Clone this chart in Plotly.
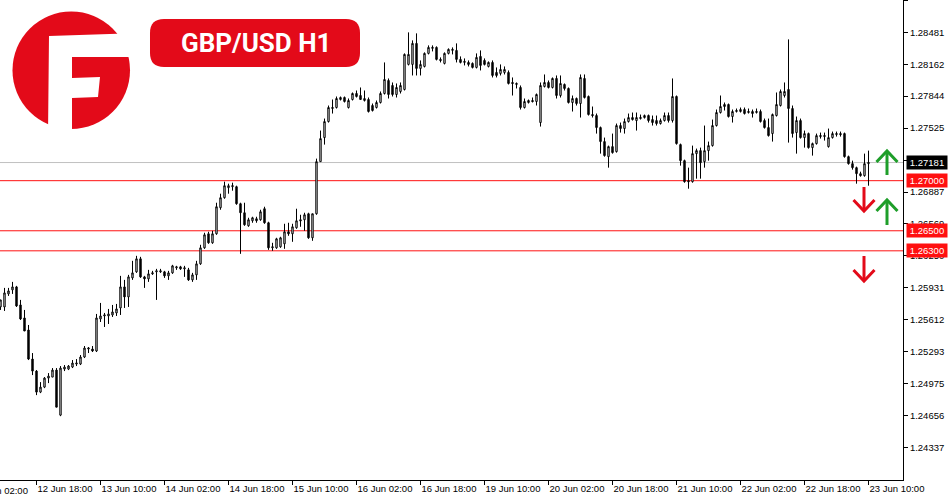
import plotly.graph_objects as go

# GBP/USD H1 bars, 12 Jun 09:00 -> 23 Jun 10:00 (one value per hour, weekend skipped)
opens = [
    1.2574, 1.2574, 1.2587, 1.2591, 1.2594, 1.2576, 1.2563, 1.2551, 1.2522, 1.2510,
    1.2489, 1.2494, 1.2503, 1.2504, 1.2511, 1.2466, 1.2512, 1.2512, 1.2514, 1.2517,
    1.2517, 1.2524, 1.2532, 1.2532, 1.2530, 1.2562, 1.2565, 1.2565, 1.2566, 1.2568,
    1.2573, 1.2594, 1.2584, 1.2603, 1.2609, 1.2622, 1.2604, 1.2602, 1.2607, 1.2609,
    1.2609, 1.2609, 1.2605, 1.2608, 1.2613, 1.2614, 1.2612, 1.2611, 1.2601, 1.2606,
    1.2617, 1.2633, 1.2647, 1.2638, 1.2647, 1.2673, 1.2683, 1.2693, 1.2694, 1.2694,
    1.2677, 1.2668, 1.2655, 1.2660, 1.2662, 1.2661, 1.2672, 1.2658, 1.2633, 1.2633,
    1.2634, 1.2637, 1.2649, 1.2647, 1.2653, 1.2661, 1.2661, 1.2667, 1.2643, 1.2667,
    1.2719, 1.2743, 1.2759, 1.2772, 1.2773, 1.2781, 1.2783, 1.2773, 1.2781, 1.2787,
    1.2785, 1.2780, 1.2781, 1.2775, 1.2773, 1.2778, 1.2787, 1.2800, 1.2795, 1.2786,
    1.2789, 1.2791, 1.2816, 1.2816, 1.2837, 1.2812, 1.2814, 1.2827, 1.2832, 1.2833,
    1.2821, 1.2817, 1.2827, 1.2830, 1.2830, 1.2821, 1.2818, 1.2818, 1.2817, 1.2813,
    1.2824, 1.2820, 1.2814, 1.2818, 1.2808, 1.2807, 1.2808, 1.2808, 1.2798, 1.2796,
    1.2793, 1.2773, 1.2778, 1.2780, 1.2779, 1.2758, 1.2794, 1.2798, 1.2793, 1.2802,
    1.2785, 1.2796, 1.2792, 1.2778, 1.2782, 1.2777, 1.2802, 1.2784, 1.2766, 1.2765,
    1.2753, 1.2739, 1.2724, 1.2734, 1.2729, 1.2755, 1.2752, 1.2759, 1.2763, 1.2760,
    1.2762, 1.2763, 1.2765, 1.2761, 1.2760, 1.2757, 1.2760, 1.2765, 1.2760, 1.2784,
    1.2736, 1.2720, 1.2700, 1.2699, 1.2727, 1.2730, 1.2719, 1.2730, 1.2735, 1.2755,
    1.2768, 1.2776, 1.2776, 1.2764, 1.2769, 1.2769, 1.2771, 1.2768, 1.2769, 1.2768,
    1.2769, 1.2760, 1.2753, 1.2747, 1.2765, 1.2775, 1.2785, 1.2791, 1.2772, 1.2748,
    1.2760, 1.2743, 1.2747, 1.2733, 1.2737, 1.2744, 1.2744, 1.2734, 1.2743, 1.2746,
    1.2747, 1.2747, 1.2724, 1.2717, 1.2713, 1.2707, 1.2705, 1.2717,
]
highs = [
    1.2581, 1.2593, 1.2593, 1.2599, 1.2595, 1.2581, 1.2571, 1.2556, 1.2528, 1.2511,
    1.2499, 1.2504, 1.2508, 1.2513, 1.2513, 1.2515, 1.2516, 1.2516, 1.2521, 1.2522,
    1.2526, 1.2535, 1.2534, 1.2535, 1.2567, 1.2578, 1.2568, 1.2572, 1.2576, 1.2577,
    1.2605, 1.2601, 1.2606, 1.2620, 1.2625, 1.2624, 1.2605, 1.2611, 1.2610, 1.2612,
    1.2612, 1.2610, 1.2610, 1.2616, 1.2615, 1.2615, 1.2615, 1.2613, 1.2608, 1.2620,
    1.2636, 1.2648, 1.2649, 1.2650, 1.2678, 1.2687, 1.2699, 1.2697, 1.2698, 1.2695,
    1.2678, 1.2678, 1.2663, 1.2664, 1.2664, 1.2671, 1.2674, 1.2659, 1.2638, 1.2643,
    1.2644, 1.2657, 1.2658, 1.2657, 1.2672, 1.2666, 1.2668, 1.2668, 1.2667, 1.2722,
    1.2750, 1.2762, 1.2775, 1.2781, 1.2784, 1.2784, 1.2784, 1.2782, 1.2788, 1.2790,
    1.2793, 1.2790, 1.2783, 1.2777, 1.2780, 1.2789, 1.2818, 1.2802, 1.2798, 1.2797,
    1.2798, 1.2827, 1.2848, 1.2840, 1.2847, 1.2820, 1.2828, 1.2835, 1.2835, 1.2834,
    1.2823, 1.2828, 1.2832, 1.2833, 1.2837, 1.2824, 1.2822, 1.2820, 1.2818, 1.2827,
    1.2830, 1.2822, 1.2819, 1.2820, 1.2813, 1.2816, 1.2814, 1.2810, 1.2803, 1.2798,
    1.2795, 1.2782, 1.2781, 1.2783, 1.2787, 1.2798, 1.2806, 1.2800, 1.2803, 1.2805,
    1.2805, 1.2797, 1.2793, 1.2785, 1.2783, 1.2806, 1.2806, 1.2785, 1.2774, 1.2767,
    1.2754, 1.2743, 1.2735, 1.2747, 1.2757, 1.2758, 1.2762, 1.2767, 1.2768, 1.2768,
    1.2766, 1.2766, 1.2766, 1.2765, 1.2765, 1.2762, 1.2768, 1.2768, 1.2802, 1.2785,
    1.2737, 1.2721, 1.2713, 1.2735, 1.2732, 1.2733, 1.2755, 1.2739, 1.2761, 1.2771,
    1.2785, 1.2778, 1.2777, 1.2771, 1.2772, 1.2773, 1.2773, 1.2772, 1.2771, 1.2772,
    1.2771, 1.2762, 1.2762, 1.2767, 1.2788, 1.2791, 1.2798, 1.2841, 1.2775, 1.2764,
    1.2762, 1.2750, 1.2748, 1.2738, 1.2747, 1.2748, 1.2748, 1.2752, 1.2749, 1.2749,
    1.2749, 1.2748, 1.2725, 1.2720, 1.2714, 1.2709, 1.2727, 1.2730,
]
lows = [
    1.2571, 1.2570, 1.2585, 1.2587, 1.2574, 1.2561, 1.2550, 1.2521, 1.2506, 1.2486,
    1.2488, 1.2493, 1.2498, 1.2504, 1.2474, 1.2465, 1.2510, 1.2511, 1.2513, 1.2515,
    1.2516, 1.2523, 1.2528, 1.2529, 1.2529, 1.2559, 1.2554, 1.2557, 1.2564, 1.2565,
    1.2566, 1.2573, 1.2574, 1.2601, 1.2608, 1.2603, 1.2593, 1.2599, 1.2606, 1.2581,
    1.2608, 1.2603, 1.2601, 1.2607, 1.2611, 1.2611, 1.2604, 1.2600, 1.2599, 1.2601,
    1.2616, 1.2632, 1.2637, 1.2637, 1.2646, 1.2671, 1.2682, 1.2687, 1.2690, 1.2676,
    1.2627, 1.2655, 1.2654, 1.2658, 1.2658, 1.2660, 1.2657, 1.2631, 1.2630, 1.2632,
    1.2633, 1.2632, 1.2645, 1.2639, 1.2652, 1.2654, 1.2650, 1.2642, 1.2640, 1.2666,
    1.2719, 1.2736, 1.2758, 1.2767, 1.2772, 1.2780, 1.2778, 1.2772, 1.2780, 1.2783,
    1.2781, 1.2779, 1.2768, 1.2769, 1.2772, 1.2777, 1.2786, 1.2782, 1.2784, 1.2783,
    1.2787, 1.2790, 1.2815, 1.2805, 1.2805, 1.2805, 1.2813, 1.2826, 1.2829, 1.2820,
    1.2818, 1.2816, 1.2826, 1.2826, 1.2818, 1.2817, 1.2815, 1.2814, 1.2812, 1.2812,
    1.2810, 1.2815, 1.2813, 1.2803, 1.2803, 1.2805, 1.2806, 1.2796, 1.2785, 1.2792,
    1.2771, 1.2772, 1.2777, 1.2778, 1.2775, 1.2754, 1.2793, 1.2792, 1.2792, 1.2782,
    1.2783, 1.2790, 1.2777, 1.2769, 1.2775, 1.2763, 1.2782, 1.2765, 1.2763, 1.2747,
    1.2727, 1.2724, 1.2713, 1.2727, 1.2728, 1.2748, 1.2747, 1.2758, 1.2760, 1.2750,
    1.2761, 1.2762, 1.2758, 1.2755, 1.2755, 1.2756, 1.2759, 1.2758, 1.2758, 1.2736,
    1.2715, 1.2698, 1.2692, 1.2698, 1.2702, 1.2702, 1.2713, 1.2720, 1.2734, 1.2754,
    1.2767, 1.2770, 1.2763, 1.2758, 1.2768, 1.2768, 1.2766, 1.2767, 1.2763, 1.2767,
    1.2758, 1.2752, 1.2744, 1.2739, 1.2764, 1.2774, 1.2783, 1.2738, 1.2743, 1.2727,
    1.2742, 1.2733, 1.2732, 1.2725, 1.2736, 1.2742, 1.2740, 1.2733, 1.2742, 1.2744,
    1.2744, 1.2723, 1.2716, 1.2711, 1.2697, 1.2704, 1.2704, 1.2695,
]
closes = [
    1.2581, 1.2588, 1.2590, 1.2594, 1.2575, 1.2562, 1.2550, 1.2522, 1.2510, 1.2489,
    1.2494, 1.2503, 1.2505, 1.2511, 1.2474, 1.2513, 1.2514, 1.2515, 1.2518, 1.2518,
    1.2524, 1.2533, 1.2533, 1.2530, 1.2563, 1.2565, 1.2566, 1.2567, 1.2569, 1.2572,
    1.2594, 1.2584, 1.2604, 1.2608, 1.2622, 1.2604, 1.2602, 1.2607, 1.2608, 1.2610,
    1.2610, 1.2605, 1.2608, 1.2615, 1.2614, 1.2612, 1.2613, 1.2601, 1.2606, 1.2617,
    1.2633, 1.2646, 1.2638, 1.2647, 1.2674, 1.2683, 1.2695, 1.2695, 1.2695, 1.2677,
    1.2668, 1.2656, 1.2661, 1.2663, 1.2660, 1.2669, 1.2658, 1.2633, 1.2634, 1.2642,
    1.2643, 1.2649, 1.2647, 1.2654, 1.2660, 1.2660, 1.2666, 1.2643, 1.2667, 1.2719,
    1.2742, 1.2759, 1.2773, 1.2773, 1.2782, 1.2783, 1.2779, 1.2780, 1.2787, 1.2784,
    1.2781, 1.2782, 1.2769, 1.2770, 1.2778, 1.2787, 1.2801, 1.2786, 1.2786, 1.2793,
    1.2795, 1.2826, 1.2826, 1.2837, 1.2812, 1.2816, 1.2827, 1.2833, 1.2833, 1.2821,
    1.2820, 1.2827, 1.2831, 1.2831, 1.2821, 1.2818, 1.2819, 1.2816, 1.2813, 1.2823,
    1.2815, 1.2816, 1.2818, 1.2805, 1.2805, 1.2811, 1.2811, 1.2797, 1.2797, 1.2797,
    1.2773, 1.2779, 1.2780, 1.2779, 1.2786, 1.2795, 1.2798, 1.2793, 1.2802, 1.2785,
    1.2797, 1.2792, 1.2778, 1.2782, 1.2777, 1.2803, 1.2783, 1.2766, 1.2765, 1.2753,
    1.2739, 1.2725, 1.2734, 1.2728, 1.2755, 1.2752, 1.2759, 1.2763, 1.2761, 1.2763,
    1.2763, 1.2765, 1.2760, 1.2758, 1.2757, 1.2760, 1.2765, 1.2760, 1.2784, 1.2737,
    1.2720, 1.2699, 1.2699, 1.2727, 1.2730, 1.2718, 1.2730, 1.2735, 1.2755, 1.2768,
    1.2774, 1.2774, 1.2764, 1.2769, 1.2770, 1.2771, 1.2767, 1.2769, 1.2767, 1.2769,
    1.2759, 1.2753, 1.2745, 1.2766, 1.2776, 1.2789, 1.2789, 1.2772, 1.2747, 1.2760,
    1.2743, 1.2747, 1.2733, 1.2737, 1.2745, 1.2745, 1.2745, 1.2743, 1.2747, 1.2747,
    1.2746, 1.2724, 1.2717, 1.2713, 1.2707, 1.2705, 1.2717, 1.27181,
]
bars = list(range(len(opens)))

# time axis: bar number -> label (every 16 bars)
tick_bars = [-7, 9, 25, 41, 57, 73, 89, 105, 121, 137, 153, 169, 185, 201, 217]
tick_labels = ["12 Jun 02:00", "12 Jun 18:00", "13 Jun 10:00", "14 Jun 02:00",
               "14 Jun 18:00", "15 Jun 10:00", "16 Jun 02:00", "16 Jun 18:00",
               "19 Jun 10:00", "20 Jun 02:00", "20 Jun 18:00", "21 Jun 10:00",
               "22 Jun 02:00", "22 Jun 18:00", "23 Jun 10:00"]

price_ticks = [1.28800, 1.28481, 1.28162, 1.27844, 1.27525, 1.27206, 1.26887,
               1.26569, 1.26250, 1.25931, 1.25612, 1.25293, 1.24975, 1.24656, 1.24337]

levels = [1.27000, 1.26500, 1.26300]
last_price = 1.27181

RED = "#E30A19"
GREEN = "#1E9E2A"
LINE_RED = "#FF1010"
PW, PH = 903, 480          # plot area in pixels
X_RANGE = [-0.125, 225.625]  # 4 px per bar, centres on half pixels
Y_RANGE = [1.24013, 1.28803]
TICK_FONT = dict(family="Liberation Sans, Arial, sans-serif", size=9.5, color="black")


def pt(x, y):
    # pixel position inside the plot area -> paper coords
    return f"{x / PW:.5f},{1 - y / PH:.5f}"


def path(points, close=True):
    s = "M " + " L ".join(pt(x, y) for x, y in points)
    return s + (" Z" if close else "")


fig = go.Figure(go.Candlestick(
    x=bars, open=opens, high=highs, low=lows, close=closes,
    increasing=dict(line=dict(color="black", width=1), fillcolor="white"),
    decreasing=dict(line=dict(color="black", width=1), fillcolor="black"),
    whiskerwidth=0, hoverinfo="skip",
))

shapes = []
for lv in levels:
    shapes.append(dict(type="line", xref="paper", yref="y", x0=0, x1=1, y0=lv, y1=lv,
                       line=dict(color=LINE_RED, width=1), layer="below"))
shapes.append(dict(type="line", xref="paper", yref="y", x0=0, x1=1, y0=last_price, y1=last_price,
                   line=dict(color="#C0C0C0", width=1), layer="below"))

# logo
shapes.append(dict(type="circle", xref="paper", yref="paper",
                   x0=12.5 / PW, x1=130 / PW, y0=1 - 129 / PH, y1=1 - 11.5 / PH,
                   fillcolor=RED, line=dict(width=0), layer="above"))
shapes.append(dict(type="path", xref="paper", yref="paper",
                   path=path([(49, 36), (140, 33), (140, 57), (72, 57), (72, 78), (100, 77),
                              (98, 97), (72, 98), (72, 135), (48, 135)]),
                   fillcolor="white", line=dict(width=0), layer="above"))

# title badge
bx0, bx1, by0, by1, r = 150, 360, 19, 67, 14
badge = (f"M {pt(bx0 + r, by0)} L {pt(bx1 - r, by0)} Q {pt(bx1, by0)} {pt(bx1, by0 + r)} "
         f"L {pt(bx1, by1 - r)} Q {pt(bx1, by1)} {pt(bx1 - r, by1)} L {pt(bx0 + r, by1)} "
         f"Q {pt(bx0, by1)} {pt(bx0, by1 - r)} L {pt(bx0, by0 + r)} Q {pt(bx0, by0)} {pt(bx0 + r, by0)} Z")
shapes.append(dict(type="path", xref="paper", yref="paper", path=badge,
                   fillcolor=RED, line=dict(width=0), layer="above"))


def arrow(x, y_tip, y_tail, color):
    d = 11 if y_tail > y_tip else -11
    shapes.append(dict(type="path", xref="paper", yref="paper",
                       path=path([(x, y_tail), (x, y_tip)], close=False),
                       line=dict(color=color, width=3), layer="above"))
    shapes.append(dict(type="path", xref="paper", yref="paper",
                       path=path([(x - 10.5, y_tip + d), (x, y_tip), (x + 10.5, y_tip + d)], close=False),
                       line=dict(color=color, width=3), layer="above"))


arrow(887, 151, 175, GREEN)
arrow(887, 200, 225, GREEN)
arrow(864, 211, 187, RED)
arrow(864, 281, 256, RED)

annotations = [dict(xref="paper", yref="paper", x=256 / PW, y=1 - 43 / PH,
                    xanchor="center", yanchor="middle",
                    text="<b>GBP/USD H1</b>", showarrow=False,
                    font=dict(family="Roboto, Inter, sans-serif", size=26, color="white"))]

for b, t in zip(tick_bars, tick_labels):
    if b < X_RANGE[0]:
        annotations.append(dict(xref="paper", yref="paper",
                                x=(b - X_RANGE[0]) / (X_RANGE[1] - X_RANGE[0]), y=0,
                                xanchor="left", yanchor="top", xshift=-2, yshift=-3,
                                text=t, showarrow=False, font=TICK_FONT))

for price, bg in [(last_price, "black")] + [(lv, LINE_RED) for lv in levels]:
    annotations.append(dict(xref="paper", yref="y", x=906 / PW, y=price,
                            xanchor="left", yanchor="middle", text=f"{price:.5f}",
                            showarrow=False, bgcolor=bg, borderpad=0, width=40, height=13,
                            align="center", font=dict(TICK_FONT, color="white")))

fig.update_layout(
    width=950, height=500,
    margin=dict(l=0, r=47, t=0, b=20, pad=0),
    paper_bgcolor="white", plot_bgcolor="white",
    showlegend=False, boxgap=0.5,
    shapes=shapes, annotations=annotations,
    xaxis=dict(range=X_RANGE, rangeslider=dict(visible=False), automargin=False,
               tickvals=[b for b in tick_bars if b >= X_RANGE[0]],
               ticktext=[t for b, t in zip(tick_bars, tick_labels) if b >= X_RANGE[0]],
               ticks="outside", ticklen=4, tickcolor="black", tickangle=0,
               ticklabelposition="outside right",
               showline=True, linecolor="black", linewidth=1,
               showgrid=False, zeroline=False, tickfont=TICK_FONT),
    yaxis=dict(range=Y_RANGE, side="right", automargin=False, tickvals=price_ticks,
               ticktext=[f"{p:.5f}" for p in price_ticks],
               ticks="outside", ticklen=4, tickcolor="black",
               showline=True, linecolor="black", linewidth=1,
               showgrid=False, zeroline=False, tickfont=TICK_FONT),
)

fig.write_html("out.html", config={"displayModeBar": False},
               post_script="document.body.style.margin = '0';")
